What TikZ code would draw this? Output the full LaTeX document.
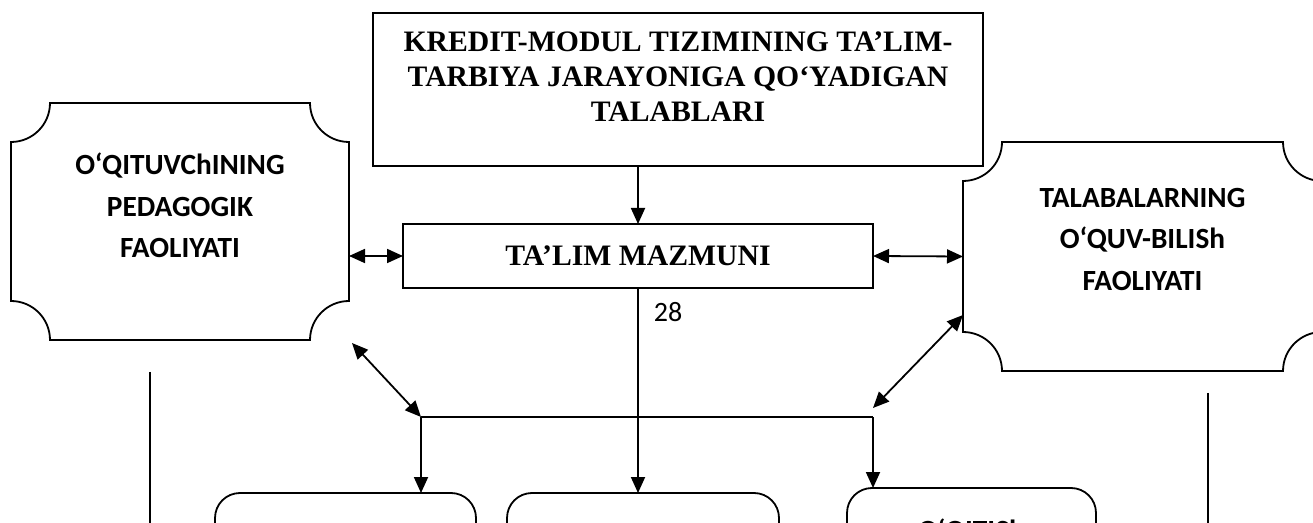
\documentclass[tikz,border=0pt]{standalone}
\usepackage{fontspec}
\setmainfont{Liberation Serif}
\newfontfamily\calibri{Carlito}
\usetikzlibrary{calc}
\usetikzlibrary{positioning}
\usetikzlibrary{arrows.meta}
\tikzstyle{boxline} = [line width=1.8pt]
\tikzstyle{rectbox} = [draw, rectangle, line width=1.8pt, inner sep=0pt, outer sep=0pt]
\tikzstyle{plaque} = [rectangle, inner sep=0pt, outer sep=0pt]
\tikzstyle{roundbox} = [draw, rectangle, line width=1.8pt, rounded corners=25pt, inner sep=0pt, outer sep=0pt]
\tikzstyle{serifbold} = [font=\fontsize{29.7}{35}\selectfont\bfseries, align=center, inner sep=0pt]
\tikzstyle{sansbold} = [font=\calibri\fontsize{29.3}{41.5}\selectfont\bfseries, align=center, inner sep=0pt]
\tikzstyle{sansreg} = [font=\calibri\fontsize{28}{34}\selectfont, inner sep=0pt]
\tikzstyle{link} = [line width=1.8pt, -{Triangle[length=16pt,width=14pt]}]
\tikzstyle{dlink} = [line width=1.8pt, {Triangle[length=16pt,width=14pt]}-{Triangle[length=16pt,width=14pt]}]
% outline of a box with concave corners
\newcommand{\notchedoutline}[2]{%
  \draw[boxline] ($(#1.north west)+(0,-#2)$) arc[start angle=-90, end angle=0, radius=#2]
    -- ($(#1.north east)+(-#2,0)$) arc[start angle=180, end angle=270, radius=#2]
    -- ($(#1.south east)+(0,#2)$) arc[start angle=90, end angle=180, radius=#2]
    -- ($(#1.south west)+(#2,0)$) arc[start angle=0, end angle=90, radius=#2]
    -- cycle;}

\begin{document}
\begin{tikzpicture}[x=1pt, y=1pt]
  \useasboundingbox (0,0) rectangle (1313,522);
  \clip (0,0) rectangle (1313,522);

  \node[rectbox, minimum width=610pt, minimum height=153pt] (req) at (678,432.5) {};
  \node[serifbold, below=19pt of req.north] (reqtext) {KREDIT-MODUL TIZIMINING TA’LIM-\\TARBIYA JARAYONIGA QO‘YADIGAN\\TALABLARI};
  \node[rectbox, serifbold, minimum width=470pt, minimum height=64pt] (content) at (638,266) {TA’LIM MAZMUNI};

  \node[plaque, minimum width=338pt, minimum height=237pt] (teacher) at (180,300.5) {};
  \node[sansbold, below=50pt of teacher.north] (teachertext) {O‘QITUVChINING\\PEDAGOGIK\\FAOLIYATI};
  \notchedoutline{teacher}{39pt}
  \node[plaque, minimum width=359pt, minimum height=229pt] (student) at (1142.5,265.5) {};
  \node[sansbold, below=46pt of student.north] (studenttext) {TALABALARNING\\O‘QUV-BILISh\\FAOLIYATI};
  \notchedoutline{student}{39pt}

  \node[roundbox, minimum width=261pt, minimum height=120pt] (boxa) at (345.5,-31) {};
  \node[roundbox, minimum width=272pt, minimum height=120pt] (boxb) at (643,-31) {};
  \node[roundbox, minimum width=249pt, minimum height=120pt] (teaching) at (971.5,-26) {};
  \node[sansbold, below=31pt of teaching.north] (teachingtext) {O‘QITISh};

  \node[sansreg] (page) at (668,210) {28};

  \coordinate (jl) at (421,105);
  \coordinate (jr) at (873,105);
  \coordinate (jrtip) at (873,114);
  \coordinate (tcorner) at ($(teacher.south east)+(3,-3)$);
  \coordinate (scorner) at ($(student.south west)+(0,56)$);
  \coordinate (ltop) at (150,150);
  \coordinate (lfoot) at (150,-10);
  \coordinate (rtop) at (1208,129);
  \coordinate (rfoot) at (1208,-10);

  \draw[link] (req.south -| content.north) -- (content.north);
  \draw[dlink] (teacher.east |- content.west) -- (content.west);
  \draw[dlink] (content.east) -- (student.west);
  \draw[dlink] (tcorner) -- (jl);
  \draw[dlink] (scorner) -- (jrtip);
  \draw[boxline] (jl) -- (jr);
  \draw[link] (jl) -- (jl |- boxa.north);
  \draw[link] (jr) -- (jr |- teaching.north);
  \draw[link] (content.south) -- (content.south |- boxb.north);
  \draw[boxline] (ltop) -- (lfoot);
  \draw[boxline] (rtop) -- (rfoot);
\end{tikzpicture}
\end{document}
